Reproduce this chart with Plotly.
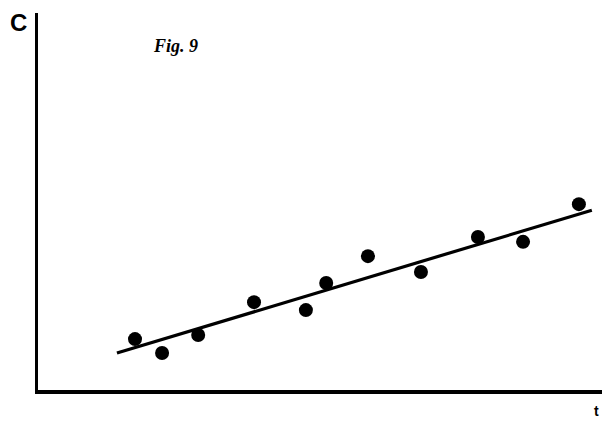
import plotly.graph_objects as go

W, H = 602, 422

# Data (arbitrary units: t along x, C along y)
t_points = [1.72, 2.20, 2.84, 3.83, 4.75, 5.11, 5.85, 6.79, 7.80, 8.60, 9.59]
c_points = [1.35, 0.98, 1.46, 2.33, 2.12, 2.84, 3.55, 3.13, 4.06, 3.93, 4.93]
t_fit = [1.40, 9.82]
c_fit = [0.98, 4.77]

fig = go.Figure()
fig.add_trace(go.Scatter(x=t_fit, y=c_fit, mode="lines",
                         line=dict(color="black", width=3.2), hoverinfo="skip"))
fig.add_trace(go.Scatter(x=t_points, y=c_points, mode="markers",
                         marker=dict(color="black", size=14), hoverinfo="skip"))

x0 = 38 / W
y0 = 1 - 390 / H
y1 = 1 - 13 / H

fig.update_layout(
    width=W, height=H,
    margin=dict(l=0, r=0, t=0, b=0),
    paper_bgcolor="white", plot_bgcolor="white",
    showlegend=False,
    xaxis=dict(domain=[x0, 1], range=[0, 10], showgrid=False, zeroline=False,
               showticklabels=False, ticks="", showline=True, linecolor="black",
               linewidth=3.5),
    yaxis=dict(domain=[y0, y1], range=[0, 10], showgrid=False, zeroline=False,
               showticklabels=False, ticks="", showline=True, linecolor="black",
               linewidth=3.5),
    annotations=[
        dict(text="<b>C</b>", x=18 / W, y=1 - 23 / H, xref="paper", yref="paper",
             showarrow=False, font=dict(family="Liberation Sans, Arial", size=24, color="black"),
             xanchor="center", yanchor="middle"),
        dict(text="<b><i>Fig. 9</i></b>", x=175 / W, y=1 - 46 / H, xref="paper", yref="paper",
             showarrow=False, font=dict(family="Liberation Serif, Times New Roman", size=18, color="black"),
             xanchor="center", yanchor="middle"),
        dict(text="<b>t</b>", x=596 / W, y=1 - 411 / H, xref="paper", yref="paper",
             showarrow=False, font=dict(family="Liberation Sans, Arial", size=14, color="black"),
             xanchor="center", yanchor="middle"),
    ],
)

fig.write_html("out.html", config={"displayModeBar": False, "staticPlot": True})
with open("out.html", "r", encoding="utf-8") as f:
    html = f.read()
html = html.replace("<head>", "<head><style>html,body{margin:0;padding:0;overflow:hidden;}</style>", 1)
with open("out.html", "w", encoding="utf-8") as f:
    f.write(html)
